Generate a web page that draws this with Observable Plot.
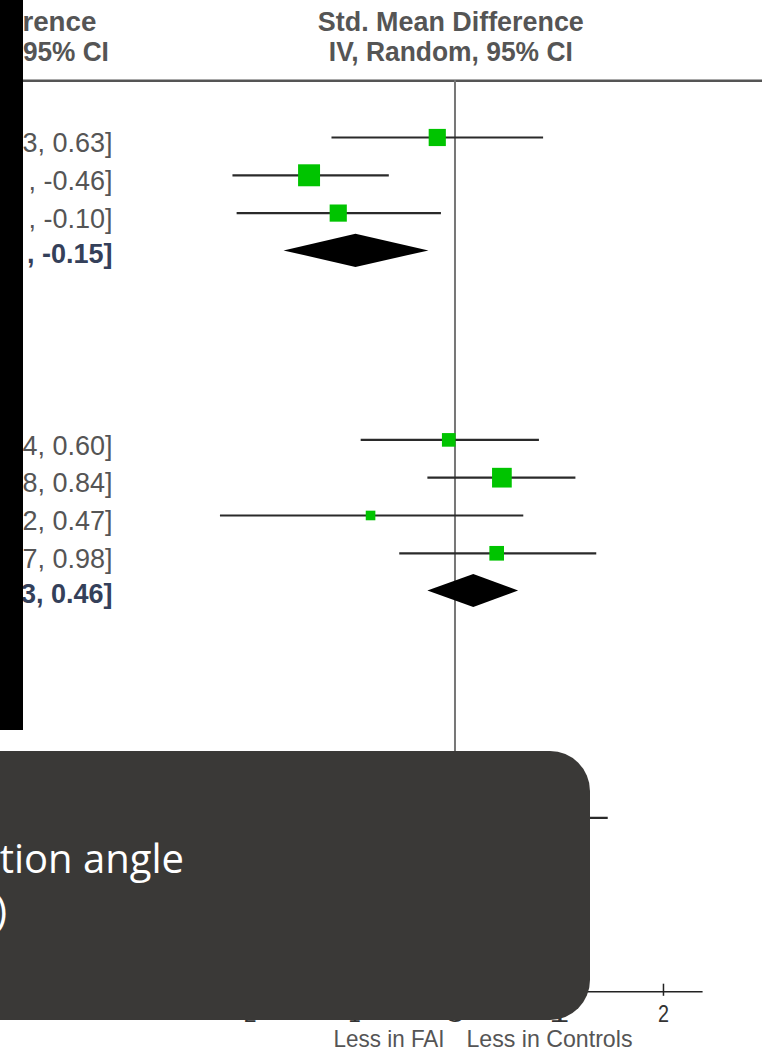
<!DOCTYPE html>
<html><head><meta charset="utf-8">
<script src="https://cdn.jsdelivr.net/npm/d3@7"></script>
<script src="https://cdn.jsdelivr.net/npm/@observablehq/plot@0.6"></script>
<style>body{margin:0;background:#fff;} svg{display:block}</style>
</head><body><div id="chart"></div>
<script>
// ---- data ----
const studyRows = [0, 1, 2, 8, 9, 10, 11, 18];
const studyEst  = [-0.17, -1.40, -1.12, -0.06, 0.45, -0.81, 0.40, 0.45];
const studyLo   = [-1.18, -2.13, -2.09, -0.90, -0.26, -2.25, -0.53, -0.60];
const studyHi   = [0.85, -0.63, -0.13, 0.81, 1.16, 0.66, 1.36, 1.47];
const studyWeight = [27.5, 45.0, 27.5, 17.3, 36.2, 8.6, 20.0, 20.0];
// visible parts of the CI column (the rest is hidden behind the black panel)
const studyText = ["3, 0.63]", ", -0.46]", ", -0.10]", "4, 0.60]", "8, 0.84]", "2, 0.47]", "7, 0.98]", ""];
const pooledRows = [3, 12];
const pooledEst  = [-0.95, 0.18];
const pooledLo   = [-1.64, -0.26];
const pooledHi   = [-0.25, 0.61];
const pooledText = [", -0.15]", "3, 0.46]"];
const axisTicks = [-2, -1, 0, 1, 2];
const headerLines = ["Std. Mean Difference", "IV, Random, 95% CI"];
const headerLeftLines = ["rence", "95% CI"];
const favoursLabels = ["Less in FAI", "Less in Controls"];
const overlayLines = ["tion angle", ")"];

// ---- tables ----
const studies = studyRows.map((row, i) => ({row, est: studyEst[i], lo: studyLo[i], hi: studyHi[i], weight: studyWeight[i], label: studyText[i]}));
const pooled = pooledRows.map((row, i) => ({row, est: pooledEst[i], lo: pooledLo[i], hi: pooledHi[i], label: pooledText[i]}));
const H = 0.437;
const diamonds = pooled.flatMap((p, g) => [
  {g, x: p.lo, y1: p.row, y2: p.row},
  {g, x: p.est, y1: p.row - H, y2: p.row + H},
  {g, x: p.hi, y1: p.row, y2: p.row}
]);

const ARIAL = '"Liberation Sans", Arial, sans-serif';
const AXIS_ROW = 22.6;

const chart = Plot.plot({
  width: 762, height: 1054, margin: 0,
  x: {domain: [-4.36, 2.95], range: [0, 762], axis: null},
  y: {domain: [-3.624, 24.26], range: [0, 1054], axis: null},
  r: {type: "sqrt", domain: [0, 45], range: [0, 12.4]},
  style: {background: "#fff"},
  marks: [
    Plot.ruleY([-1.5], {x1: -4.36, x2: 2.95, stroke: "#555", strokeWidth: 2.5}),
    Plot.ruleX([0], {y1: -1.5, y2: AXIS_ROW, stroke: "#777", strokeWidth: 2}),
    Plot.ruleY(studies, {y: "row", x1: "lo", x2: "hi", stroke: "#2a2a2a", strokeWidth: 2.2}),
    Plot.dot(studies, {x: "est", y: "row", r: "weight", symbol: "square", fill: "#00c400", stroke: null}),
    Plot.areaY(diamonds, {x: "x", y1: "y1", y2: "y2", z: "g", fill: "#000", curve: "linear"}),
    Plot.text(studies, {x: () => -3.285, y: "row", text: "label", textAnchor: "end", dy: 6,
      fontSize: 27, fill: "#555", fontFamily: ARIAL}),
    Plot.text(pooled, {x: () => -3.285, y: "row", text: "label", textAnchor: "end", dy: 3,
      fontSize: 27, fontWeight: "bold", fill: "#34405a", fontFamily: ARIAL}),
    // headers
    Plot.text(headerLines, {x: () => -0.04, y: (d, i) => [-3.05, -2.25][i], text: d => d,
      fontSize: 27, fontWeight: "bold", fill: "#555", fontFamily: ARIAL, className: "hdr"}),
    Plot.text(headerLeftLines, {x: (d, i) => [-3.44, -3.32][i], y: (d, i) => [-3.05, -2.25][i], text: d => d,
      textAnchor: "end", fontSize: 27, fontWeight: "bold", fill: "#555", fontFamily: ARIAL, className: "hdrl"}),
    // axis
    Plot.ruleY([AXIS_ROW], {x1: -2.38, x2: 2.38, stroke: "#222", strokeWidth: 1.5}),
    Plot.ruleX(axisTicks, {x: d => d, y1: AXIS_ROW - 0.2, y2: AXIS_ROW + 0.12, stroke: "#222", strokeWidth: 1.5}),
    Plot.text(axisTicks, {x: d => d, y: () => AXIS_ROW + 0.6, text: d => String(d), fontSize: 24,
      fill: "#333", fontFamily: ARIAL, className: "tick"}),
    Plot.text(favoursLabels, {x: (d, i) => [-0.1, 0.11][i], y: () => 23.86, text: d => d,
      fontSize: 24, fill: "#555", fontFamily: ARIAL, className: "fav"})
  ]
});

const svg = d3.select(chart);
// condensed look (the reference uses a narrow face)
const hdrLen = {"Std. Mean Difference": 266, "IV, Random, 95% CI": 244, "rence": 74, "95% CI": 86,
                "Less in FAI": 111, "Less in Controls": 166, "2": 11};
svg.selectAll(".hdr text, .hdrl text, .fav text, .tick text").each(function() {
  const L = hdrLen[this.textContent];
  if (L) d3.select(this).attr("textLength", L).attr("lengthAdjust", "spacingAndGlyphs");
});
svg.selectAll(".tick text").filter(function(){ return this.textContent !== "2"; })
  .attr("textLength", 20).attr("lengthAdjust", "spacingAndGlyphs");
svg.selectAll(".fav text").attr("text-anchor", (d, i) => i === 0 ? "end" : "start");

// decorations: black panel on the left, dark overlay box
svg.append("rect").attr("x", 0).attr("y", 0).attr("width", 23).attr("height", 730).attr("fill", "#000");
const ov = svg.append("g");
ov.append("rect").attr("x", -60).attr("y", 751).attr("width", 650).attr("height", 269).attr("rx", 40).attr("fill", "#3a3937");
ov.selectAll("text").data(overlayLines).join("text")
  .attr("x", (d, i) => [184, 7][i]).attr("y", (d, i) => [873, 925][i])
  .attr("text-anchor", "end").attr("fill", "#fff")
  .attr("font-family", '"Open Sans", sans-serif').attr("font-size", 40)
  .text(d => d);

document.getElementById("chart").appendChild(chart);
</script>
</body></html>
